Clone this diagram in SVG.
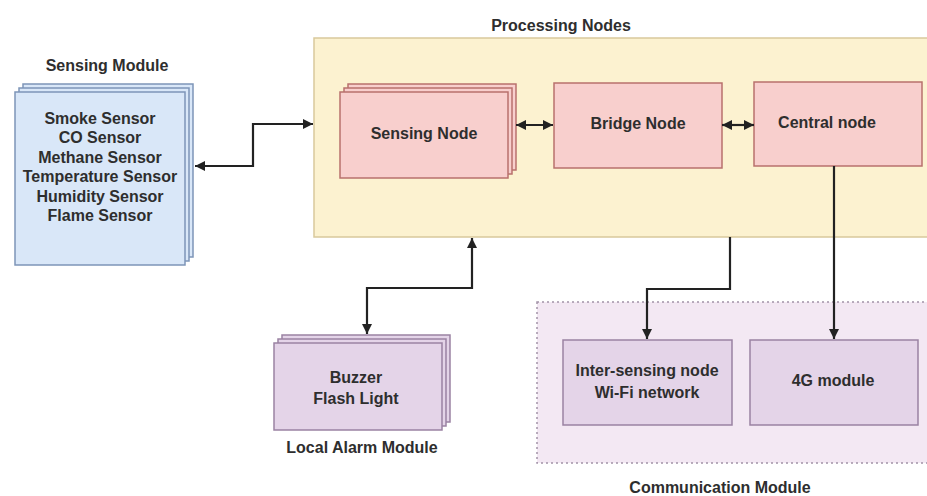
<svg xmlns="http://www.w3.org/2000/svg" width="927" height="496" viewBox="0 0 927 496">
<defs>
<style>
text{font-family:"Liberation Sans",Arial,sans-serif;font-size:16px;font-weight:bold;fill:#2e2e2e;text-anchor:middle}
.blue{fill:#d9e7f8;stroke:#7d95b8;stroke-width:1.5}
.pink{fill:#f8cfcd;stroke:#b8716c;stroke-width:1.5}
.purple{fill:#e4d4e8;stroke:#9a82a3;stroke-width:1.5}
.cont{fill:#fcf2d0;stroke:#d9c99c;stroke-width:1.5}
.comm{fill:#f3e8f3;stroke:#a393a8;stroke-width:1.5;stroke-dasharray:2 3}
.edge{fill:none;stroke:#222;stroke-width:2.2}
</style>
<marker id="arr" viewBox="0 0 10 10" refX="10" refY="5" markerWidth="10" markerHeight="10" markerUnits="userSpaceOnUse" orient="auto-start-reverse">
<path d="M0,0 L10,5 L0,10 Z" fill="#222"/>
</marker>
</defs>
<rect width="927" height="496" fill="#ffffff"/>

<g id="processing-nodes">
<rect class="cont" x="314" y="38" width="640" height="199"/>
<text x="561" y="31">Processing Nodes</text>
</g>

<g id="communication-module">
<rect class="comm" x="537" y="302" width="420" height="161"/>
<text x="720" y="493">Communication Module</text>
</g>

<g id="sensing-module">
<rect class="blue" x="23" y="84" width="170" height="173"/>
<rect class="blue" x="19" y="88" width="170" height="173"/>
<rect class="blue" x="15" y="92" width="170" height="173"/>
<text x="107" y="71">Sensing Module</text>
<text x="100" y="124">Smoke Sensor</text>
<text x="100" y="143">CO Sensor</text>
<text x="100" y="163">Methane Sensor</text>
<text x="100" y="182">Temperature Sensor</text>
<text x="100" y="202">Humidity Sensor</text>
<text x="100" y="221">Flame Sensor</text>
</g>

<g id="sensing-node">
<rect class="pink" x="348" y="84" width="168" height="86"/>
<rect class="pink" x="344" y="88" width="168" height="86"/>
<rect class="pink" x="340" y="92" width="168" height="86"/>
<text x="424" y="139">Sensing Node</text>
</g>

<g id="bridge-node">
<rect class="pink" x="554" y="83" width="168" height="85"/>
<text x="638" y="129">Bridge Node</text>
</g>

<g id="central-node">
<rect class="pink" x="754" y="82" width="168" height="84"/>
<text x="827" y="128">Central node</text>
</g>

<g id="local-alarm-module">
<rect class="purple" x="282" y="335" width="168" height="87"/>
<rect class="purple" x="278" y="339" width="168" height="87"/>
<rect class="purple" x="274" y="343" width="168" height="87"/>
<text x="356" y="383">Buzzer</text>
<text x="356" y="404">Flash Light</text>
<text x="362" y="453">Local Alarm Module</text>
</g>

<g id="inter-sensing-node">
<rect class="purple" x="563" y="340" width="169" height="85"/>
<text x="647" y="376">Inter-sensing node</text>
<text x="647" y="398">Wi-Fi network</text>
</g>

<g id="4g-module">
<rect class="purple" x="750" y="340" width="168" height="85"/>
<text x="833" y="386">4G module</text>
</g>

<g id="connectors">
<path class="edge" d="M195 166 H253 V124 H313" marker-start="url(#arr)" marker-end="url(#arr)"/>
<path class="edge" d="M516 125 H553" marker-start="url(#arr)" marker-end="url(#arr)"/>
<path class="edge" d="M722 125 H754" marker-start="url(#arr)" marker-end="url(#arr)"/>
<path class="edge" d="M472 238 V288 H367 V334" marker-start="url(#arr)" marker-end="url(#arr)"/>
<path class="edge" d="M730 237 V289 H647 V339" marker-end="url(#arr)"/>
<path class="edge" d="M834 166 V339" marker-end="url(#arr)"/>
</g>
</svg>
